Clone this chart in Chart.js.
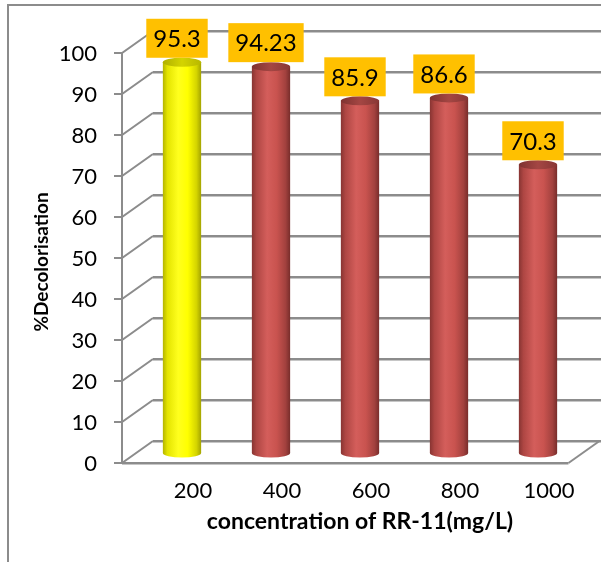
<!DOCTYPE html>
<html>
<head>
<meta charset="utf-8">
<script src="https://cdn.jsdelivr.net/npm/chart.js@4.4.1/dist/chart.umd.min.js"></script>
<style>
  body { margin: 0; background: #fff; }
  canvas { display: block; }
</style>
</head>
<body>
<canvas id="chart" width="601" height="562"></canvas>
<script>
// data
const concentrations = ['200', '400', '600', '800', '1000'];
const decolorisation = [95.3, 94.23, 85.9, 86.6, 70.3];
const yMin = 0, yMax = 100, yStep = 10;
const xTitle = 'concentration of RR-11(mg/L)';
const yTitle = '%Decolorisation';

const FONT = 'Lato, "Open Sans", sans-serif';
const GRID = '#8c8c8c';
const GRID_LIGHT = '#c6c6c6';
const BAR_PCT = 0.43;

const redBody = [[0, '#873432'], [0.12, '#ae4643'], [0.4, '#d45e5b'], [0.65, '#c9534f'], [0.88, '#a2413e'], [1, '#782d2b']];
const redTop = [[0, '#7e3230'], [0.5, '#a44643'], [1, '#883735']];
const yellowBody = [[0, '#b4b400'], [0.12, '#e4e400'], [0.4, '#ffff1e'], [0.65, '#ffff00'], [0.88, '#d4d400'], [1, '#a4a400']];
const yellowTop = [[0, '#b0b000'], [0.5, '#d4d400'], [1, '#b8b800']];

function grad(ctx, x0, x1, stops) {
  const g = ctx.createLinearGradient(x0, 0, x1, 0);
  stops.forEach(s => g.addColorStop(s[0], s[1]));
  return g;
}

function bodyStops(i) { return i === 0 ? yellowBody : redBody; }
function topStops(i) { return i === 0 ? yellowTop : redTop; }

function hline(ctx, x0, x1, y) {
  ctx.strokeStyle = GRID;
  ctx.lineWidth = 2;
  ctx.beginPath(); ctx.moveTo(x0, y); ctx.lineTo(x1, y); ctx.stroke();
  ctx.strokeStyle = GRID_LIGHT;
  ctx.lineWidth = 1;
  ctx.beginPath(); ctx.moveTo(x0, y + 1.5); ctx.lineTo(x1, y + 1.5); ctx.stroke();
}

const excel3d = {
  id: 'excel3d',
  beforeDraw(chart) {
    const ctx = chart.ctx;
    ctx.save();
    ctx.fillStyle = '#fff';
    ctx.fillRect(0, 0, chart.width, chart.height);
    // outer frame (runs off the right and bottom)
    ctx.strokeStyle = GRID;
    ctx.lineWidth = 2;
    ctx.beginPath();
    ctx.moveTo(8, chart.height);
    ctx.lineTo(8, 5);
    ctx.lineTo(chart.width, 5);
    ctx.stroke();
    ctx.restore();
  },
  beforeDatasetsDraw(chart) {
    const ctx = chart.ctx;
    const ys = chart.scales.y;
    const area = chart.chartArea;
    const frontX = area.left - 15.5, backX = area.left + 15.5;
    const back = v => ys.getPixelForValue(v) - 12;
    const front = v => ys.getPixelForValue(v) + 10;
    ctx.save();
    // back wall gridlines + side diagonals + front ticks
    for (let v = yMin; v <= yMax; v += yStep) {
      hline(ctx, backX, chart.width, back(v));
      ctx.strokeStyle = GRID;
      ctx.lineWidth = 2;
      ctx.beginPath();
      ctx.moveTo(frontX - 8, front(v));
      ctx.lineTo(frontX, front(v));
      ctx.lineTo(backX, back(v));
      ctx.stroke();
    }
    // front axis
    ctx.beginPath();
    ctx.moveTo(frontX, front(yMax));
    ctx.lineTo(frontX, front(yMin));
    ctx.stroke();
    // floor front edge and right corner
    const floorR = area.right - 14;
    hline(ctx, frontX, floorR, front(yMin));
    ctx.strokeStyle = GRID;
    ctx.lineWidth = 2;
    ctx.beginPath();
    ctx.moveTo(floorR, front(yMin));
    ctx.lineTo(floorR + 31, back(yMin));
    ctx.stroke();
    // cylinder bottoms
    chart.getDatasetMeta(0).data.forEach((el, i) => {
      const hw = el.width / 2;
      ctx.fillStyle = grad(ctx, el.x - hw, el.x + hw, bodyStops(i));
      ctx.beginPath();
      ctx.ellipse(el.x, el.base, hw, 4.5, 0, 0, Math.PI * 2);
      ctx.fill();
    });
    ctx.restore();
  },
  afterDatasetsDraw(chart) {
    const ctx = chart.ctx;
    ctx.save();
    chart.getDatasetMeta(0).data.forEach((el, i) => {
      const hw = el.width / 2;
      // cylinder top
      ctx.fillStyle = grad(ctx, el.x - hw, el.x + hw, topStops(i));
      ctx.beginPath();
      ctx.ellipse(el.x, el.y, hw, 4.5, 0, 0, Math.PI * 2);
      ctx.fill();
      // value label box
      const txt = String(decolorisation[i]);
      ctx.font = '24px ' + FONT;
      const w = ctx.measureText(txt).width + 14;
      const h = 39;
      const cx = el.x - 5;
      const bottom = el.y - 4.5;
      ctx.fillStyle = '#ffc000';
      ctx.fillRect(cx - w / 2, bottom - h, w, h);
      ctx.fillStyle = '#000';
      ctx.textAlign = 'center';
      ctx.textBaseline = 'middle';
      ctx.fillText(txt, cx, bottom - h / 2 + 1);
    });
    // y axis title
    ctx.translate(42, 262);
    ctx.rotate(-Math.PI / 2);
    ctx.font = 'bold 19px ' + FONT;
    ctx.fillStyle = '#000';
    ctx.textAlign = 'center';
    ctx.textBaseline = 'middle';
    ctx.fillText(yTitle, 0, 0);
    ctx.restore();
  }
};

new Chart(document.getElementById('chart'), {
  type: 'bar',
  data: {
    labels: concentrations,
    datasets: [{
      data: decolorisation,
      borderWidth: 0,
      categoryPercentage: 1,
      barPercentage: BAR_PCT,
      backgroundColor: (c) => {
        const chart = c.chart;
        const xs = chart.scales.x;
        if (!chart.chartArea || !xs || c.dataIndex === undefined) return '#c0504d';
        const cx = xs.getPixelForValue(c.dataIndex);
        const hw = (xs.width / concentrations.length) * BAR_PCT / 2;
        return grad(chart.ctx, cx - hw, cx + hw, bodyStops(c.dataIndex));
      }
    }]
  },
  options: {
    responsive: false,
    animation: false,
    layout: { padding: { left: 0, right: 18.5, top: 43, bottom: 0 } },
    plugins: { legend: { display: false }, tooltip: { enabled: false } },
    scales: {
      x: {
        grid: { display: false, drawTicks: false },
        border: { display: false },
        ticks: { color: '#000', font: { family: FONT, size: 22 }, padding: 25, labelOffset: 11, maxRotation: 0 },
        title: { display: true, text: xTitle, color: '#000', font: { family: FONT, size: 23, weight: 'bold' }, padding: { top: 0, bottom: 27 } },
        afterFit: s => { s.height = 109; }
      },
      y: {
        min: yMin, max: yMax,
        grid: { display: false, drawTicks: false },
        border: { display: false },
        ticks: { stepSize: yStep, color: '#000', font: { family: FONT, size: 22 }, padding: 40.5, labelOffset: 11 },
        afterFit: s => { s.width = 137.5; s.paddingTop = 0; s.paddingBottom = 0; }
      }
    }
  },
  plugins: [excel3d]
});
</script>
</body>
</html>
